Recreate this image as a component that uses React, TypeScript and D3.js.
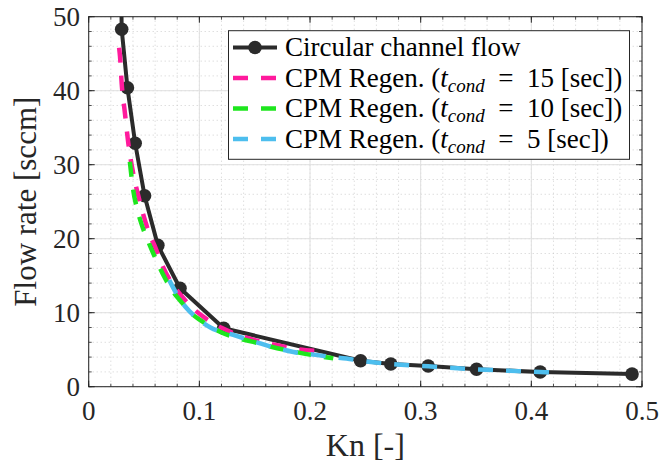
import React from "react";
import * as d3 from "d3";

const W = 661;
const H = 470;

// Circular channel flow (black, with markers)
const circKn = [0.0292, 0.0298, 0.035, 0.042, 0.0505, 0.0625, 0.0825, 0.122, 0.2457, 0.273, 0.3068, 0.3505, 0.408, 0.491];
const circFlow = [56, 48.3, 40.4, 32.9, 25.8, 19.1, 13.3, 7.9, 3.5, 3.07, 2.8, 2.35, 1.99, 1.7];

// CPM Regen. t_cond = 15 s (pink)
const pinkKn = [0.0275, 0.0283, 0.0298, 0.0328, 0.0358, 0.04, 0.0445, 0.05, 0.055, 0.06, 0.0665, 0.0734, 0.082, 0.092, 0.105, 0.12, 0.135, 0.15, 0.17, 0.19, 0.206];
const pinkFlow = [45.8, 44.6, 41.0, 36.9, 32.9, 29.0, 26.0, 22.9, 20.6, 18.9, 16.4, 14.4, 12.6, 10.9, 9.3, 7.95, 7.0, 6.3, 5.6, 5.05, 4.85];

// CPM Regen. t_cond = 10 s (green)
const greenKn = [0.0372, 0.0403, 0.044, 0.0479, 0.053, 0.0584, 0.0635, 0.069, 0.076, 0.084, 0.0915, 0.105, 0.1186, 0.134, 0.1487, 0.165, 0.185, 0.205, 0.221];
const greenFlow = [30.4, 26.5, 23.9, 21.9, 19.9, 18.0, 16.3, 14.65, 12.9, 11.4, 10.1, 8.6, 7.43, 6.6, 6.05, 5.4, 4.75, 4.2, 3.84];

// CPM Regen. t_cond = 5 s (blue)
const blueKn = [0.0728, 0.08, 0.088, 0.0976, 0.11, 0.1306, 0.15, 0.1668, 0.185, 0.205, 0.22, 0.233, 0.2457, 0.273, 0.3068, 0.3505, 0.38, 0.408, 0.421];
const blueFlow = [14.4, 12.4, 10.7, 9.3, 8.0, 6.99, 6.1, 5.32, 4.7, 4.3, 4.0, 3.8, 3.5, 3.07, 2.75, 2.35, 2.15, 1.98, 1.92];

const xTicks = [0, 0.1, 0.2, 0.3, 0.4, 0.5];
const yTicks = [0, 10, 20, 30, 40, 50];
const xTickLabels = ["0", "0.1", "0.2", "0.3", "0.4", "0.5"];
const yTickLabels = ["0", "10", "20", "30", "40", "50"];

const legendEntries = ["Circular channel flow", "15", "10", "5"];

const FONT = "Liberation Serif";
const AX = "#262626";
const C_BLACK = "#2b2b2b";
const C_PINK = "#ff1a9c";
const C_GREEN = "#1ee61e";
const C_BLUE = "#4dbeee";

export default function App() {
  const L = 88.7, R = 642, T = 16.7, B = 386.7;
  const x = d3.scaleLinear().domain([0, 0.5]).range([L, R]);
  const y = d3.scaleLinear().domain([0, 50]).range([B, T]);

  const xMinor = d3.range(0, 0.5001, 0.02);
  const yMinor = d3.range(0, 50.001, 2);

  const mk = (kn: number[], fl: number[]) => kn.map((k, i) => [k, fl[i]] as [number, number]);
  const lineLin = d3.line<[number, number]>().x(d => x(d[0])).y(d => y(d[1]));
  const lineSm = d3.line<[number, number]>().x(d => x(d[0])).y(d => y(d[1])).curve(d3.curveMonotoneX);

  const circ = mk(circKn, circFlow);
  const series = [
    { data: mk(pinkKn, pinkFlow), color: C_PINK },
    { data: mk(greenKn, greenFlow), color: C_GREEN },
    { data: mk(blueKn, blueFlow), color: C_BLUE },
  ];

  const dash = "15,13";
  const lgX = 228.5, lgY = 30.7, lgW = 401, lgH = 128.6;
  const rowY = [47.5, 78, 108.5, 139];
  const sampleX0 = 233, sampleX1 = 277, textX = 285;
  const tf = { fontFamily: FONT };

  return (
    <div style={{ position: "fixed", left: 0, top: 0 }}>
      <svg width={W} height={H} style={{ display: "block", background: "#fff" }}>
        <defs>
          <clipPath id="plotclip">
            <rect x={L} y={T} width={R - L} height={B - T} />
          </clipPath>
        </defs>
        <rect x={L} y={T} width={R - L} height={B - T} fill="#fff" />
        {xMinor.map((v, i) => (
          <line key={"xm" + i} x1={x(v)} x2={x(v)} y1={T} y2={B} stroke="#c4c4c4" strokeWidth={0.8} strokeDasharray="1,3" />
        ))}
        {yMinor.map((v, i) => (
          <line key={"ym" + i} x1={L} x2={R} y1={y(v)} y2={y(v)} stroke="#c4c4c4" strokeWidth={0.8} strokeDasharray="1,3" />
        ))}
        {xTicks.map((v, i) => (
          <line key={"xg" + i} x1={x(v)} x2={x(v)} y1={T} y2={B} stroke="#e0e0e0" strokeWidth={1} />
        ))}
        {yTicks.map((v, i) => (
          <line key={"yg" + i} x1={L} x2={R} y1={y(v)} y2={y(v)} stroke="#e0e0e0" strokeWidth={1} />
        ))}

        <g clipPath="url(#plotclip)">
          <path d={lineLin(circ) || ""} fill="none" stroke={C_BLACK} strokeWidth={4} strokeLinejoin="round" />
          {circ.filter(d => d[1] <= 50).map((d, i) => (
            <circle key={"m" + i} cx={x(d[0])} cy={y(d[1])} r={6.8} fill={C_BLACK} />
          ))}
          {series.map((s, i) => (
            <path key={"s" + i} d={lineSm(s.data) || ""} fill="none" stroke={s.color} strokeWidth={4.5} strokeDasharray={dash} />
          ))}
        </g>

        {xMinor.map((v, i) => (
          <g key={"xmt" + i}>
            <line x1={x(v)} x2={x(v)} y1={B} y2={B - 3} stroke={AX} strokeWidth={0.8} />
            <line x1={x(v)} x2={x(v)} y1={T} y2={T + 3} stroke={AX} strokeWidth={0.8} />
          </g>
        ))}
        {yMinor.map((v, i) => (
          <g key={"ymt" + i}>
            <line x1={L} x2={L + 3} y1={y(v)} y2={y(v)} stroke={AX} strokeWidth={0.8} />
            <line x1={R} x2={R - 3} y1={y(v)} y2={y(v)} stroke={AX} strokeWidth={0.8} />
          </g>
        ))}
        {xTicks.map((v, i) => (
          <g key={"xt" + i}>
            <line x1={x(v)} x2={x(v)} y1={B} y2={B - 6} stroke={AX} strokeWidth={1} />
            <line x1={x(v)} x2={x(v)} y1={T} y2={T + 6} stroke={AX} strokeWidth={1} />
            <text x={x(v)} y={420} textAnchor="middle" style={tf} fontSize={27} fill={AX}>{xTickLabels[i]}</text>
          </g>
        ))}
        {yTicks.map((v, i) => (
          <g key={"yt" + i}>
            <line x1={L} x2={L + 6} y1={y(v)} y2={y(v)} stroke={AX} strokeWidth={1} />
            <line x1={R} x2={R - 6} y1={y(v)} y2={y(v)} stroke={AX} strokeWidth={1} />
            <text x={80} y={y(v) + 9} textAnchor="end" style={tf} fontSize={27} fill={AX}>{yTickLabels[i]}</text>
          </g>
        ))}
        <rect x={L} y={T} width={R - L} height={B - T} fill="none" stroke={AX} strokeWidth={1} />

        <text x={(L + R) / 2} y={456} textAnchor="middle" style={tf} fontSize={32} fill={AX}>Kn [-]</text>
        <text transform={`translate(36,${(T + B) / 2}) rotate(-90)`} textAnchor="middle" style={tf} fontSize={31} fill={AX}>Flow rate [sccm]</text>

        <rect x={lgX} y={lgY} width={lgW} height={lgH} fill="#fff" stroke={AX} strokeWidth={1} />
        <line x1={sampleX0} x2={sampleX1} y1={rowY[0]} y2={rowY[0]} stroke={C_BLACK} strokeWidth={4} />
        <circle cx={(sampleX0 + sampleX1) / 2} cy={rowY[0]} r={6.8} fill={C_BLACK} />
        <text x={textX} y={rowY[0] + 8.5} style={tf} fontSize={27} fill="#000">{legendEntries[0]}</text>
        {series.map((s, i) => (
          <g key={"lg" + i}>
            <line x1={sampleX0} x2={sampleX1} y1={rowY[i + 1]} y2={rowY[i + 1]} stroke={s.color} strokeWidth={4.5} strokeDasharray={dash} />
            <text x={textX} y={rowY[i + 1] + 8.5} style={tf} fontSize={27} fill="#000">
              CPM Regen. (<tspan fontStyle="italic">t</tspan>
              <tspan fontStyle="italic" fontSize={19} dy={5}>cond</tspan>
              <tspan dy={-5}>{"\u2002=\u2002" + legendEntries[i + 1] + " [sec])"}</tspan>
            </text>
          </g>
        ))}
      </svg>
    </div>
  );
}
